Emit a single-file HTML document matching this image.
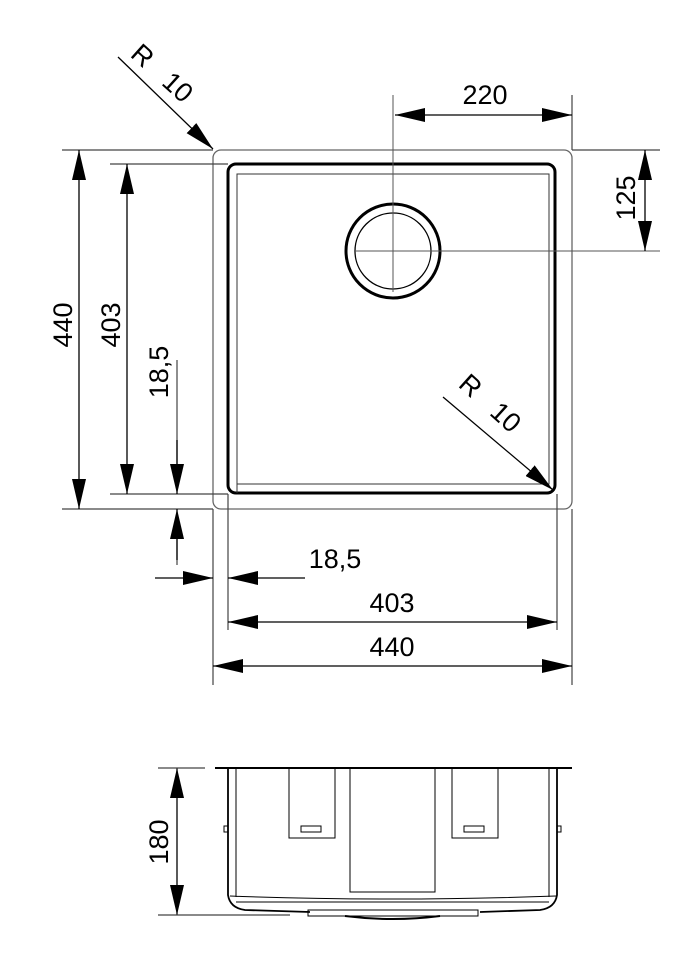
<!DOCTYPE html>
<html><head><meta charset="utf-8"><style>body{margin:0;background:#fff}svg{display:block}text{font-family:"Liberation Sans",sans-serif;font-size:27px;fill:#000}</style></head>
<body>
<svg width="692" height="955" viewBox="0 0 692 955" xmlns="http://www.w3.org/2000/svg">
<defs>
<marker id="a" viewBox="0 0 30 14" refX="30" refY="7" markerWidth="30" markerHeight="14" markerUnits="userSpaceOnUse" orient="auto-start-reverse"><path d="M0,0 L30,7 L0,14 z" fill="#000"/></marker>
</defs>
<g fill="none" stroke="#000">
<rect x="213" y="150" width="359" height="359" rx="8" stroke="#666" stroke-width="1.3"/>
<rect x="228" y="164" width="327" height="329" rx="8" stroke-width="3"/>
<path d="M237 493 V174 H549 V484 H237" stroke-width="1" stroke="#333"/>
<circle cx="393" cy="251" r="47" stroke-width="3"/>
<circle cx="393" cy="251" r="38" stroke-width="1.3"/>
<path d="M393 95 V292 M354 251 H660" stroke="#555" stroke-width="1"/>
<path d="M62 150 H213 M110 164 H228 M110 494 H228 M62 509 H213 M572 150 H660 M572 95 V150 M213 509 V685 M228 494 V630 M557 494 V630 M572 509 V685 M177 360 V480 M177 525 V565" stroke="#444" stroke-width="1.2"/>
<g stroke-width="1.3">
<line x1="79" y1="150" x2="79" y2="509" marker-start="url(#a)" marker-end="url(#a)"/>
<line x1="127" y1="164" x2="127" y2="494" marker-start="url(#a)" marker-end="url(#a)"/>
<line x1="177" y1="440" x2="177" y2="494" marker-end="url(#a)"/>
<line x1="177" y1="560" x2="177" y2="509" marker-end="url(#a)"/>
<line x1="395" y1="115" x2="572" y2="115" marker-start="url(#a)" marker-end="url(#a)"/>
<line x1="645" y1="150" x2="645" y2="251" marker-start="url(#a)" marker-end="url(#a)"/>
<line x1="155" y1="578" x2="213" y2="578" marker-end="url(#a)"/>
<line x1="305" y1="578" x2="228" y2="578" marker-end="url(#a)"/>
<line x1="228" y1="622" x2="557" y2="622" marker-start="url(#a)" marker-end="url(#a)"/>
<line x1="213" y1="666" x2="572" y2="666" marker-start="url(#a)" marker-end="url(#a)"/>
<line x1="118" y1="57" x2="213" y2="149" marker-end="url(#a)"/>
<line x1="443" y1="397" x2="553" y2="490" marker-end="url(#a)"/>
<line x1="177" y1="768" x2="177" y2="915" marker-start="url(#a)" marker-end="url(#a)"/>
</g>
<path d="M158 768 H205 M158 915 H290" stroke="#444" stroke-width="1.2"/>
<path d="M215 768 H572" stroke-width="2"/>
<path d="M228 768 V895 Q230 908 245 910 L310 912 M557 768 V895 Q555 908 540 910 L480 912" stroke-width="1.8"/>
<path d="M236 768 V897 M549 768 V897 M230 896 Q390 902 556 896 M236 902 H549" stroke-width="1"/>
<rect x="289" y="768" width="46" height="70" stroke-width="1"/>
<rect x="452" y="768" width="46" height="70" stroke-width="1"/>
<rect x="350" y="768" width="85" height="124" stroke-width="1"/>
<rect x="301" y="826" width="20" height="6" stroke-width="1"/>
<rect x="464" y="826" width="20" height="6" stroke-width="1"/>
<rect x="224" y="826" width="4" height="6" stroke-width="1"/>
<rect x="557" y="826" width="4" height="6" stroke-width="1"/>
<rect x="308" y="910" width="170" height="6" stroke-width="1"/>
<path d="M345 916 Q393 922 440 916" stroke-width="2"/>
</g>
<text transform="translate(72,325) rotate(-90)" text-anchor="middle">440</text>
<text transform="translate(120,325) rotate(-90)" text-anchor="middle">403</text>
<text transform="translate(168,372) rotate(-90)" text-anchor="middle">18,5</text>
<text transform="translate(635,198) rotate(-90)" text-anchor="middle">125</text>
<text transform="translate(168,842) rotate(-90)" text-anchor="middle">180</text>
<text x="485" y="104" text-anchor="middle">220</text>
<text x="335" y="568" text-anchor="middle">18,5</text>
<text x="392" y="612" text-anchor="middle">403</text>
<text x="392" y="656" text-anchor="middle">440</text>
<text transform="translate(156,80) rotate(42)" text-anchor="middle" style="white-space:pre" xml:space="preserve">R   10</text>
<text transform="translate(484,410) rotate(42)" text-anchor="middle" style="white-space:pre" xml:space="preserve">R   10</text>
</svg>
</body></html>
